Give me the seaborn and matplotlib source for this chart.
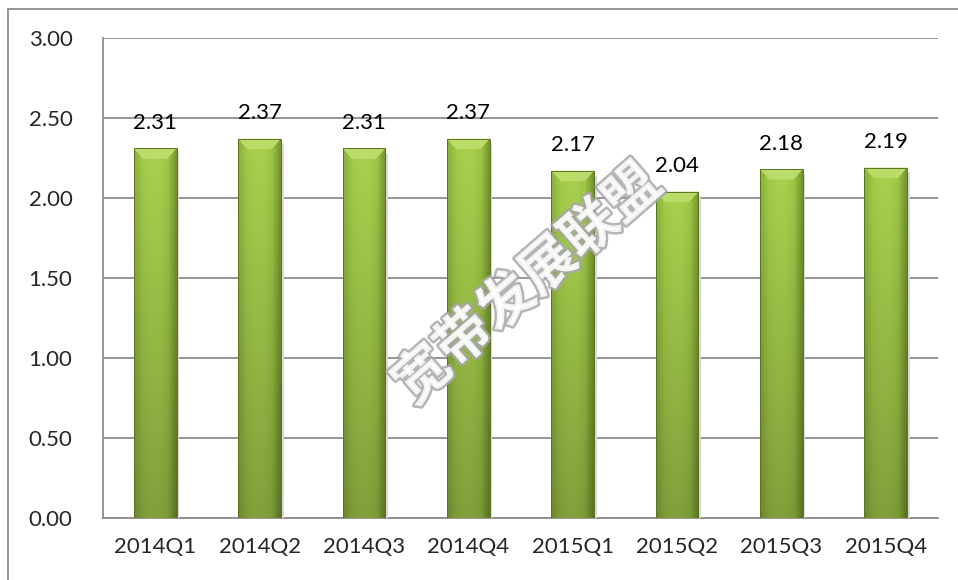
import matplotlib
matplotlib.use("Agg")
import matplotlib.pyplot as plt
import matplotlib.patheffects as pe
from matplotlib.lines import Line2D
from matplotlib.colors import LinearSegmentedColormap
import numpy as np
import pandas as pd
import seaborn as sns

quarters = ["2014Q1", "2014Q2", "2014Q3", "2014Q4", "2015Q1", "2015Q2", "2015Q3", "2015Q4"]
values = [2.31, 2.37, 2.31, 2.37, 2.17, 2.04, 2.18, 2.19]
yticks = [0.0, 0.5, 1.0, 1.5, 2.0, 2.5, 3.0]
watermark = "宽带发展联盟"

sns.set_theme(style="white")
plt.rcParams["font.family"] = ["Lato", "DejaVu Sans"]

W, H = 958, 580
fig = plt.figure(figsize=(W / 100, H / 100), dpi=100)
ax = fig.add_axes([103 / W, 62 / H, (938 - 103) / W, (518 - 38) / H])

df = pd.DataFrame({"quarter": quarters, "value": values})
sns.barplot(data=df, x="quarter", y="value", color="#9bc243", width=0.41,
            edgecolor="#5a7421", linewidth=0.7, ax=ax, zorder=3)

# soft shading on each bar: slightly darker sides, lighter top
shade = LinearSegmentedColormap.from_list(
    "bar", ["#86a83a", "#9cc346", "#a2c94b", "#a2c94b", "#98bf43", "#6f8d2c"])
horiz = shade(np.linspace(0, 1, 64))
for p in ax.patches:
    x0, y0 = p.get_x(), p.get_y()
    w, h = p.get_width(), p.get_height()
    # drop shadow
    ax.fill([x0 + w, x0 + w + 0.025, x0 + w + 0.025, x0 + w],
            [y0, y0, y0 + h - 0.03, y0 + h - 0.03],
            color="#d8d8d8", zorder=2.9, lw=0)
    vert = np.linspace(1.04, 0.8, 64)[:, None, None]
    img = np.clip(horiz[None, :, :3] * vert, 0, 1)
    im = ax.imshow(img, extent=[x0, x0 + w, y0, y0 + h], aspect="auto",
                   origin="upper", zorder=3.5, interpolation="bilinear")
    im.set_clip_path(p)
    # top bevel
    bev = 0.065
    ax.fill([x0, x0 + w, x0 + w * 0.78, x0 + w * 0.22],
            [y0 + h, y0 + h, y0 + h - bev, y0 + h - bev],
            color="#bcdc6a", zorder=3.6, lw=0)
    p.set_zorder(3.7)
    p.set_facecolor("none")

for i, v in enumerate(values):
    ax.annotate(f"{v:.2f}", (i, v), xytext=(0, 14), textcoords="offset points",
                ha="center", va="baseline", fontsize=16, color="black")

ax.set_ylim(0, 3)
ax.set_xlim(-0.5, len(quarters) - 0.5)
ax.set_yticks(yticks)
ax.set_yticklabels([f"{t:.2f}" for t in yticks], fontsize=16)
ax.tick_params(axis="x", labelsize=16, length=0, pad=14)
ax.tick_params(axis="y", length=0, pad=22)
ax.set_xlabel("")
ax.set_ylabel("")
ax.yaxis.grid(True, color="#8c8c8c", linewidth=1.3, zorder=0)
ax.set_axisbelow(True)
for s in ["top", "right"]:
    ax.spines[s].set_visible(False)
for s in ["left", "bottom"]:
    ax.spines[s].set_color("#8c8c8c")
    ax.spines[s].set_linewidth(1.3)

# watermark
fig.text(528 / W, 1 - 285 / H, watermark, rotation=41, ha="center", va="center",
         fontsize=40, fontweight="bold", color="white", alpha=0.85,
         family=["Noto Sans CJK SC", "DejaVu Sans"], zorder=10,
         path_effects=[pe.withStroke(linewidth=3.5, foreground="#a8a8a8")])

# outer chart border
fig.add_artist(Line2D([8 / W, 8 / W], [0, 1 - 9 / H], transform=fig.transFigure,
                      color="#8c8c8c", lw=1.3))
fig.add_artist(Line2D([8 / W, 1], [1 - 9 / H, 1 - 9 / H], transform=fig.transFigure,
                      color="#8c8c8c", lw=1.3))

fig.savefig("out.png", dpi=100)
